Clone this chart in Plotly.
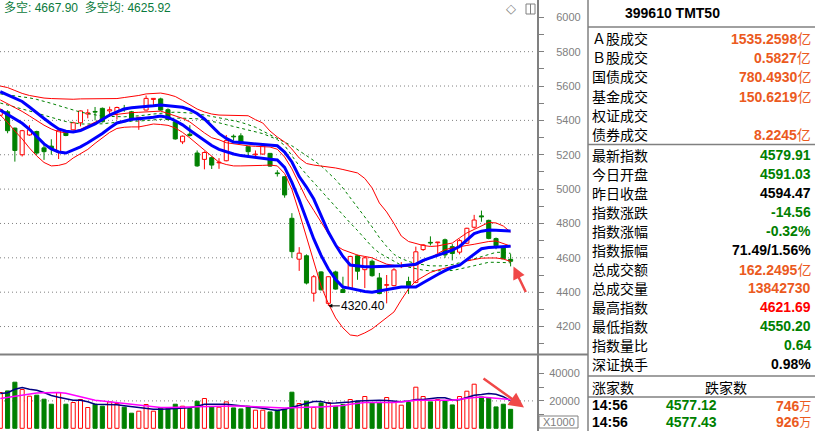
import plotly.graph_objects as go

W, H = 815, 431
AX_X = 537      # price axis line (px)
PANEL_X = 588   # info panel border (px)
SEP_Y = 354.5   # separator between price and volume panes (px)

# ---------------- data ----------------
idx = list(range(71))
opens = [5430, 5450, 5355, 5200, 5315, 5335, 5240, 5250, 5215, 5330,
         5345, 5386, 5437, 5452, 5470, 5455, 5450, 5470, 5450, 5414,
         5460, 5522, 5525, 5462, 5392, 5275, 5320, 5210, 5173, 5183,
         5153, 5165, 5308, 5310, 5247, 5200, 5204, 5208, 5094, 5072,
         4830, 4592, 4612, 4394, 4518, 4335, 4518, 4415, 4423, 4612,
         4531, 4580, 4483, 4440, 4438, 4551, 4462, 4457, 4648, 4690,
         4688, 4705, 4665, 4633, 4685, 4778, 4844, 4818, 4712, 4665,
         4591.03]
highs = [5470, 5460, 5358, 5345, 5372, 5340, 5262, 5290, 5340, 5335,
         5392, 5458, 5465, 5478, 5475, 5480, 5480, 5490, 5455, 5420,
         5545, 5530, 5532, 5470, 5400, 5312, 5372, 5225, 5220, 5190,
         5180, 5315, 5318, 5325, 5250, 5225, 5258, 5210, 5110, 5075,
         4860, 4662, 4620, 4500, 4522, 4492, 4525, 4490, 4612, 4618,
         4605, 4590, 4512, 4500, 4540, 4575, 4490, 4665, 4680, 4725,
         4692, 4712, 4680, 4710, 4775, 4850, 4875, 4822, 4718, 4670,
         4621.69]
lows = [5425, 5325, 5160, 5190, 5310, 5200, 5170, 5200, 5175, 5308,
        5340, 5365, 5412, 5400, 5388, 5420, 5405, 5450, 5400, 5345,
        5458, 5482, 5456, 5400, 5288, 5262, 5305, 5130, 5115, 5117,
        5118, 5162, 5282, 5262, 5183, 5185, 5200, 5130, 5073, 4950,
        4600, 4524, 4445, 4345, 4410, 4320.40, 4415, 4395, 4420, 4472,
        4424, 4490, 4388, 4335, 4435, 4540, 4390, 4452, 4640, 4672,
        4628, 4600, 4585, 4620, 4680, 4770, 4810, 4708, 4650, 4594,
        4550.20]
closes = [5463, 5340, 5225, 5340, 5345, 5210, 5218, 5235, 5340, 5312,
          5386, 5455, 5444, 5448, 5392, 5462, 5475, 5462, 5405, 5418,
          5528, 5528, 5460, 5405, 5292, 5308, 5312, 5135, 5213, 5140,
          5157, 5282, 5304, 5266, 5218, 5203, 5252, 5134, 5090, 4966,
          4636, 4627, 4453, 4490, 4414, 4490, 4418, 4398, 4608, 4522,
          4600, 4496, 4392, 4444, 4530, 4555, 4437, 4635, 4675, 4686,
          4692, 4617, 4625, 4700, 4772, 4820, 4838, 4713, 4670, 4594.47,
          4579.91]
volumes = [26130, 27300, 33650, 28300, 23430, 24160, 21240, 17590, 26130, 17590,
           18830, 21020, 15180, 17590, 16130, 19270, 18100, 15400, 11020, 12480,
           17370, 12480, 14890, 14450, 17590, 16130, 14450, 19780, 21750, 15620,
           15400, 19270, 14890, 14160, 16130, 13210, 13210, 11970, 13210, 14000,
           26350, 18100, 19780, 15180, 18540, 18830, 16130, 17370, 21020, 19780,
           23210, 18830, 18830, 22480, 18830, 16860, 18830, 30000, 23210, 19270,
           21020, 20000, 17080, 23210, 27080, 32190, 22920, 22480, 15620, 17590,
           13843]
vol_ma_navy = [25400, 25990, 28540, 29780, 28540, 27810, 26130, 23940, 22700, 21610,
               20510, 20510, 19420, 17590, 17590, 17590, 17230, 16500, 15770, 15400,
               14310, 13940, 13940, 14160, 14450, 14670, 15040, 16130, 17590, 17590,
               17590, 17590, 17010, 16500, 15770, 15400, 14670, 13720, 12990, 13940,
               15400, 16640, 18470, 19490, 19640, 18320, 18540, 18690, 19270, 19930,
               20150, 20220, 20510, 20220, 20000, 19420, 19930, 21020, 21020, 21750,
               22340, 22340, 20660, 20880, 22700, 24160, 24670, 25480, 24890, 23070,
               20150]
vol_ma_magenta = [21750, 22480, 23430, 24160, 25110, 25840, 25990, 26130, 26130, 25620,
                  24380, 22920, 21750, 20510, 20000, 19420, 18830, 18320, 17590, 16860,
                  16350, 15700, 15180, 15180, 15180, 15400, 15620, 15770, 15990, 16130,
                  16280, 16350, 16350, 16350, 16280, 15770, 15550, 15180, 14820, 14820,
                  15040, 15400, 15620, 15620, 15620, 15910, 16130, 16640, 17590, 18470,
                  18830, 18830, 18830, 18830, 18830, 19420, 20000, 20510, 20510, 20510,
                  20510, 20510, 20510, 21240, 21970, 22480, 22850, 22340, 21750, 21390,
                  21020]
blue_slow = [5567, 5549, 5530, 5510, 5478, 5443, 5411, 5379, 5350, 5337,
             5332, 5341, 5362, 5379, 5405, 5431, 5449, 5466, 5473, 5476,
             5480, 5485, 5490, 5486, 5482, 5476, 5463, 5440, 5408, 5364,
             5324, 5295, 5274, 5271, 5268, 5264, 5259, 5256, 5252, 5216,
             5158, 5073, 5012, 4942, 4846, 4750, 4675, 4608, 4558, 4553,
             4548, 4548, 4548, 4550, 4552, 4554, 4558, 4563, 4585, 4600,
             4618, 4631, 4645, 4666, 4704, 4741, 4755, 4762, 4760, 4759,
             4756]
blue_fast = [5460, 5434, 5410, 5383, 5348, 5306, 5263, 5234, 5216, 5210,
             5228, 5246, 5270, 5295, 5324, 5356, 5385, 5395, 5406, 5410,
             5413, 5418, 5425, 5417, 5398, 5374, 5343, 5312, 5280, 5254,
             5231, 5216, 5204, 5195, 5189, 5185, 5181, 5174, 5170, 5126,
             5039, 4937, 4823, 4710, 4614, 4535, 4474, 4430, 4422, 4413,
             4404, 4400, 4408, 4416, 4425, 4430, 4430, 4430, 4455, 4481,
             4503, 4525, 4545, 4557, 4590, 4625, 4653, 4660, 4663, 4664,
             4667.90]
band_upper = [5600, 5591, 5574, 5557, 5545, 5536, 5530, 5527, 5525, 5523,
              5523, 5525, 5525, 5525, 5525, 5525, 5527, 5533, 5537, 5545,
              5554, 5557, 5559, 5551, 5539, 5516, 5490, 5466, 5449, 5437,
              5431, 5431, 5431, 5430, 5427, 5404, 5385, 5338, 5303, 5274,
              5233, 5181, 5149, 5140, 5135, 5129, 5123, 5114, 5106, 5094,
              5062, 5007, 4919, 4867, 4800, 4727, 4695, 4684, 4672, 4666,
              4669, 4678, 4686, 4716, 4745, 4765, 4785, 4806, 4803, 4785,
              4750]
band_mid = [5519, 5497, 5476, 5452, 5426, 5397, 5372, 5350, 5334, 5328,
            5335, 5348, 5370, 5391, 5410, 5430, 5436, 5441, 5445, 5447,
            5450, 5452, 5454, 5440, 5427, 5412, 5391, 5357, 5327, 5299,
            5287, 5270, 5263, 5258, 5252, 5249, 5248, 5245, 5232, 5187,
            5118, 5033, 4944, 4876, 4810, 4742, 4673, 4647, 4630, 4616,
            4608, 4600, 4581, 4563, 4556, 4548, 4551, 4557, 4577, 4600,
            4627, 4648, 4657, 4666, 4672, 4679, 4689, 4695, 4698, 4682,
            4668]
band_lower = [5431, 5388, 5338, 5292, 5239, 5193, 5155, 5135, 5138, 5149,
              5181, 5204, 5231, 5266, 5298, 5330, 5353, 5360, 5362, 5362,
              5370, 5379, 5376, 5371, 5356, 5330, 5298, 5263, 5231, 5193,
              5156, 5143, 5135, 5135, 5135, 5135, 5138, 5140, 5135, 5091,
              4998, 4864, 4717, 4570, 4436, 4334, 4250, 4192, 4151, 4145,
              4163, 4186, 4218, 4250, 4285, 4355, 4419, 4465, 4492, 4515,
              4529, 4540, 4547, 4561, 4582, 4591, 4598, 4599, 4599, 4593,
              4579]
green_a = [5554, 5549, 5545, 5540, 5531, 5522, 5512, 5499, 5486, 5473,
           5461, 5448, 5440, 5431, 5425, 5423, 5420, 5421, 5423, 5426,
           5431, 5437, 5443, 5445, 5448, 5447, 5443, 5439, 5432, 5424,
           5415, 5407, 5398, 5389, 5375, 5360, 5338, 5315, 5292, 5273,
           5252, 5225, 5196, 5166, 5136, 5095, 5055, 5006, 4952, 4895,
           4838, 4780, 4718, 4666, 4620, 4596, 4579, 4567, 4558, 4553,
           4553, 4553, 4561, 4570, 4581, 4594, 4607, 4620, 4632, 4632,
           4625.92]
green_b = [5501, 5490, 5480, 5468, 5457, 5443, 5430, 5417, 5405, 5393,
           5387, 5379, 5379, 5379, 5380, 5385, 5389, 5393, 5395, 5396,
           5400, 5404, 5408, 5410, 5413, 5413, 5411, 5409, 5402, 5395,
           5386, 5375, 5365, 5355, 5344, 5333, 5323, 5306, 5288, 5254,
           5196, 5135, 5085, 5038, 4989, 4940, 4892, 4845, 4803, 4759,
           4712, 4664, 4628, 4604, 4580, 4557, 4546, 4537, 4528, 4524,
           4524, 4524, 4526, 4535, 4543, 4554, 4564, 4574, 4574, 4572,
           4571]

price_ticks = list(range(4100, 6001, 100))
price_ticktext = [str(v) if v % 200 == 0 else "" for v in price_ticks]
grid_levels = [4200, 4400, 4600, 4800, 5000, 5200, 5400, 5600, 5800]
vol_ticks = [10000, 20000, 30000, 40000]
vol_ticktext = ["", "20000", "", "40000"]
vol_grid = [20000]
low_mark_index = 45
low_mark_text = "4320.40"
legend_text = "多空: 4667.90\u00a0\u00a0多空均: 4625.92"
title_text = "399610 TMT50"

info_labels = ["Ａ股成交", "Ｂ股成交", "国债成交", "基金成交", "权证成交", "债券成交",
               "最新指数", "今日开盘", "昨日收盘", "指数涨跌", "指数涨幅", "指数振幅",
               "总成交额", "总成交量", "最高指数", "最低指数", "指数量比", "深证换手"]
info_values = ["1535.2598", "0.5827", "780.4930", "150.6219", "", "8.2245",
               "4579.91", "4591.03", "4594.47", "-14.56", "-0.32%", "71.49/1.56%",
               "162.2495", "13842730", "4621.69", "4550.20", "0.64", "0.98%"]
info_units = ["亿", "亿", "亿", "亿", "", "亿",
              "", "", "", "", "", "",
              "亿", "", "", "", "", ""]
ORANGE, GREEN, RED, BLACK = "#EB5A1E", "#008000", "#FF0000", "#000000"
info_colors = [ORANGE, ORANGE, ORANGE, ORANGE, ORANGE, ORANGE,
               GREEN, GREEN, BLACK, GREEN, GREEN, BLACK,
               ORANGE, ORANGE, RED, GREEN, GREEN, BLACK]
tick_rows = [("14:56", "4577.12", "746", "万"), ("14:56", "4577.43", "926", "万")]
breadth_labels = ["涨家数", "跌家数"]

# ---------------- helpers ----------------
def px(x):
    return x / W

def py(y):
    return 1 - y / H

GRAY = "#808080"
BLUE = "#0000FF"
NUM_FONT = "Liberation Sans, Arial, Noto Sans CJK SC"
CJK_FONT = "Noto Sans CJK SC, Liberation Sans"
LBL_SIZE = 14
VAL_SIZE = 14

fig = go.Figure()

# ---------------- candles ----------------
MIN_BODY = 4
up = [i for i in idx if closes[i] >= opens[i]]
dn = [i for i in idx if closes[i] < opens[i]]

def bodies(ids):
    base, hgt = [], []
    for i in ids:
        lo, hi = min(opens[i], closes[i]), max(opens[i], closes[i])
        base.append(lo)
        hgt.append(max(hi - lo, MIN_BODY))
    return base, hgt

def wicks(ids):
    xs, ys = [], []
    for i in ids:
        lo, hi = min(opens[i], closes[i]), max(opens[i], closes[i])
        top = max(hi, lo + MIN_BODY)
        if highs[i] > top:
            xs += [i, i, None]; ys += [top, highs[i], None]
        if lows[i] < lo:
            xs += [i, i, None]; ys += [lows[i], lo, None]
    return xs, ys

for ids, fill, col in [(up, "white", RED), (dn, GREEN, GREEN)]:
    wx, wy = wicks(ids)
    fig.add_trace(go.Scatter(x=wx, y=wy, mode="lines", line=dict(color=col, width=1),
                             hoverinfo="skip", xaxis="x", yaxis="y"))
    b, h = bodies(ids)
    fig.add_trace(go.Bar(x=ids, y=h, base=b, width=0.56,
                         marker=dict(color=fill, line=dict(color=col, width=1)),
                         hoverinfo="skip", xaxis="x", yaxis="y"))

# ---------------- indicator lines ----------------
for series, col, wid, dash in [
    (green_a, GREEN, 1, "3px,3px"),
    (green_b, GREEN, 1, "3px,3px"),
    (band_upper, RED, 1, "solid"),
    (band_mid, RED, 1, "solid"),
    (band_lower, RED, 1, "solid"),
    (blue_slow, BLUE, 3, "solid"),
    (blue_fast, BLUE, 3, "solid"),
]:
    fig.add_trace(go.Scatter(x=idx, y=series, mode="lines",
                             line=dict(color=col, width=wid, dash=dash),
                             hoverinfo="skip", xaxis="x", yaxis="y"))

# ---------------- volume ----------------
for ids, fill, col in [(up, "white", RED), (dn, GREEN, GREEN)]:
    fig.add_trace(go.Bar(x=ids, y=[volumes[i] for i in ids], width=0.56,
                         marker=dict(color=fill, line=dict(color=col, width=1)),
                         hoverinfo="skip", xaxis="x2", yaxis="y2"))
fig.add_trace(go.Scatter(x=idx, y=vol_ma_navy, mode="lines",
                         line=dict(color="#000080", width=1.5),
                         hoverinfo="skip", xaxis="x2", yaxis="y2"))
fig.add_trace(go.Scatter(x=idx, y=vol_ma_magenta, mode="lines",
                         line=dict(color="#FF00FF", width=1.5),
                         hoverinfo="skip", xaxis="x2", yaxis="y2"))

# ---------------- shapes ----------------
shapes = []
for v in grid_levels:
    shapes.append(dict(type="line", xref="paper", yref="y", x0=0, x1=px(AX_X - 1),
                       y0=v, y1=v, line=dict(color=GRAY, width=1, dash="1px,3px"), layer="below"))
for v in vol_grid:
    shapes.append(dict(type="line", xref="paper", yref="y2", x0=0, x1=px(AX_X - 1),
                       y0=v, y1=v, line=dict(color=GRAY, width=1, dash="1px,3px"), layer="below"))
def pline(x0, y0, x1, y1, w=1.5):
    shapes.append(dict(type="line", xref="paper", yref="paper",
                       x0=px(x0), x1=px(x1), y0=py(y0), y1=py(y1),
                       line=dict(color=GRAY, width=w)))
pline(0, SEP_Y, PANEL_X, SEP_Y, 2)
pline(PANEL_X, 0, PANEL_X, H, 1.5)
for yy in [27, 144.5, 376, 397]:
    pline(PANEL_X, yy, W, yy, 1.5)
# X1000 box
shapes.append(dict(type="rect", xref="paper", yref="paper", x0=px(539), x1=px(578),
                   y0=py(416), y1=py(428), line=dict(color=GRAY, width=1)))
# window icon
shapes.append(dict(type="rect", xref="paper", yref="paper", x0=px(526), x1=px(535),
                   y0=py(4), y1=py(14), line=dict(color=GRAY, width=1)))
pline(530.5, 4, 530.5, 14, 1)

# ---------------- annotations ----------------
ann = []
ann.append(dict(xref="paper", yref="paper", x=px(3), y=py(8), xanchor="left", yanchor="middle",
                text=legend_text, showarrow=False, borderpad=0,
                font=dict(family=NUM_FONT, size=12, color="#0a7a3c")))
ann.append(dict(xref="paper", yref="paper", x=px(511), y=py(8.5), xanchor="center", yanchor="middle",
                text="◇", showarrow=False, borderpad=0,
                font=dict(family="DejaVu Sans", size=13, color=GRAY)))
ann.append(dict(xref="x", yref="y", x=low_mark_index, y=lows[low_mark_index],
                text=low_mark_text, showarrow=True, ax=35, ay=0,
                arrowhead=2, arrowsize=0.8, arrowwidth=1, arrowcolor="black",
                font=dict(family=NUM_FONT, size=12, color="black")))
# red pointer arrows
ann.append(dict(xref="paper", yref="paper", x=px(513.5), y=py(266.5), text="", showarrow=True,
                ax=13, ay=27, arrowhead=2, arrowsize=1, arrowwidth=2.5, arrowcolor="#F04848"))
ann.append(dict(xref="paper", yref="paper", x=px(524), y=py(407.5), text="", showarrow=True,
                ax=-42, ay=-30, arrowhead=2, arrowsize=1.2, arrowwidth=2.5, arrowcolor="#F04848"))
ann.append(dict(xref="paper", yref="paper", x=px(558.5), y=py(422), xanchor="center", yanchor="middle",
                text="X1000", showarrow=False, borderpad=0,
                font=dict(family=NUM_FONT, size=11, color=GRAY)))
# info panel
ann.append(dict(xref="paper", yref="paper", x=px(672), y=py(12.5), xanchor="center", yanchor="middle",
                text="<b>%s</b>" % title_text, showarrow=False, borderpad=0,
                font=dict(family=NUM_FONT, size=14, color="black")))
row_y = [38, 57.2, 76.4, 95.6, 114.8, 134, 155, 174, 193, 212, 231, 250,
         269, 288, 307, 326, 345, 364]
UNIT_SPAN = "<span style='font-family:Noto Sans CJK SC;font-size:14px'>%s</span>"
UNIT_SPAN_SMALL = "<span style='font-family:Noto Sans CJK SC;font-size:12px'>%s</span>"
for lab, val, unit, col, yy in zip(info_labels, info_values, info_units, info_colors, row_y):
    ann.append(dict(xref="paper", yref="paper", x=px(591), y=py(yy), xanchor="left", yanchor="middle",
                    text=lab, showarrow=False, borderpad=0,
                    font=dict(family=CJK_FONT, size=LBL_SIZE, color="black")))
    if val:
        txt = "<b>%s</b>" % val
        if unit:
            txt += UNIT_SPAN % unit
        ann.append(dict(xref="paper", yref="paper", x=px(812), y=py(yy), xanchor="right", yanchor="middle",
                        text=txt, showarrow=False, borderpad=0,
                        font=dict(family=NUM_FONT, size=VAL_SIZE, color=col)))
ann.append(dict(xref="paper", yref="paper", x=px(591), y=py(387), xanchor="left", yanchor="middle",
                text=breadth_labels[0], showarrow=False, borderpad=0,
                font=dict(family=CJK_FONT, size=LBL_SIZE, color="black")))
ann.append(dict(xref="paper", yref="paper", x=px(704), y=py(387), xanchor="left", yanchor="middle",
                text=breadth_labels[1], showarrow=False, borderpad=0,
                font=dict(family=CJK_FONT, size=LBL_SIZE, color="black")))
for (tm, px_val, vol, unit), (yy, anc) in zip(tick_rows, [(405, "middle"), (431, "bottom")]):
    common = dict(xref="paper", yref="paper", y=py(yy), yanchor=anc, showarrow=False, borderpad=0)
    ann.append(dict(common, x=px(591), xanchor="left", text="<b>%s</b>" % tm,
                    font=dict(family=NUM_FONT, size=VAL_SIZE, color="black")))
    ann.append(dict(common, x=px(718), xanchor="right", text="<b>%s</b>" % px_val,
                    font=dict(family=NUM_FONT, size=VAL_SIZE, color=GREEN)))
    ann.append(dict(common, x=px(812), xanchor="right", text="<b>%s</b>" % vol + UNIT_SPAN_SMALL % unit,
                    font=dict(family=NUM_FONT, size=VAL_SIZE, color=ORANGE)))

# ---------------- layout ----------------
x_lo, x_hi = -0.04, 73.62
p_top = 6000 + 17.3 / 0.1718
p_bot = 6000 - (SEP_Y - 17.3) / 0.1718
v_scale = 20000 / 27.4
v_zero_y = 428.3
v_top = (v_zero_y - SEP_Y) * v_scale
v_bot = (v_zero_y - H) * v_scale

fig.update_layout(
    width=W, height=H, autosize=False,
    margin=dict(l=0, r=0, t=0, b=0, pad=0),
    paper_bgcolor="white", plot_bgcolor="white",
    showlegend=False, barmode="overlay",
    xaxis=dict(domain=[0, px(AX_X)], range=[x_lo, x_hi], anchor="y",
               showgrid=False, zeroline=False, showticklabels=False, ticks="", showline=False),
    xaxis2=dict(domain=[0, px(AX_X)], range=[x_lo, x_hi], anchor="y2", matches="x",
                showgrid=False, zeroline=False, showticklabels=False, ticks="", showline=False),
    yaxis=dict(domain=[py(SEP_Y), 1], range=[p_bot, p_top], anchor="x", side="right",
               showgrid=False, zeroline=False, showline=True, linecolor=GRAY, linewidth=2,
               ticks="outside", ticklen=5, tickcolor=GRAY, tickwidth=1,
               tickmode="array", tickvals=price_ticks, ticktext=price_ticktext,
               ticklabelstandoff=10,
               tickfont=dict(family=NUM_FONT, size=11, color=GRAY)),
    yaxis2=dict(domain=[0, py(SEP_Y)], range=[v_bot, v_top], anchor="x2", side="right",
                showgrid=False, zeroline=False, showline=True, linecolor=GRAY, linewidth=2,
                ticks="outside", ticklen=5, tickcolor=GRAY, tickwidth=1,
                tickmode="array", tickvals=vol_ticks, ticktext=vol_ticktext,
                ticklabelstandoff=3,
                tickfont=dict(family=NUM_FONT, size=11, color=GRAY)),
    shapes=shapes,
    annotations=ann,
)

fig.write_html("out.html", config={"displayModeBar": False})
